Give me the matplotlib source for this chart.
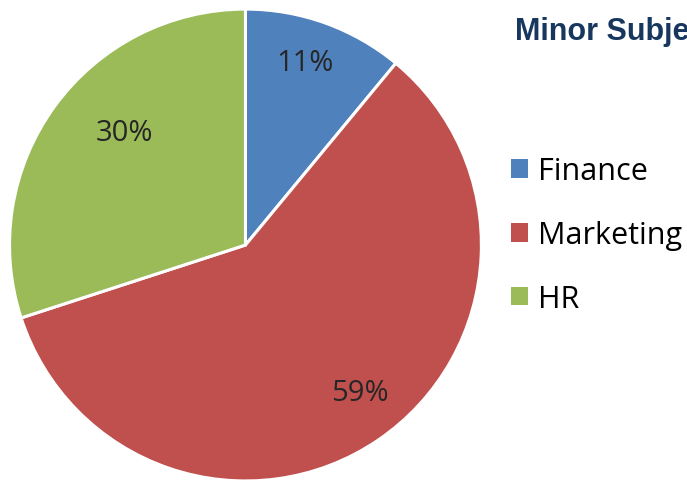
import matplotlib.pyplot as plt
from matplotlib.patches import Patch

subjects = ['Finance', 'Marketing', 'HR']
shares = [11, 59, 30]
colors = ['#4F81BD', '#C0504D', '#9BBB59']
title = 'Minor Subjects'

fig = plt.figure(figsize=(6.87, 4.81), dpi=100)
ax = fig.add_axes([0.0138, -0.002, 0.687, 0.981])

wedges, texts, autotexts = ax.pie(
    shares, colors=colors, startangle=90, counterclock=False,
    autopct=lambda p: f'{p:.0f}%', pctdistance=0.8, radius=1.0,
    wedgeprops=dict(edgecolor='white', linewidth=2.2),
    textprops=dict(fontsize=21, color='#262626', family='Open Sans'))
ax.set_xlim(-1, 1)
ax.set_ylim(-1, 1)
ax.set_aspect('equal')

# label placement nudged to match the original layout
label_xy = [(0.252, 0.775), (0.485, -0.627), (-0.511, 0.475)]
for t, xy in zip(autotexts, label_xy):
    t.set_position(xy)

fig.text(515 / 687, 1 - 40 / 481, title, fontsize=22, fontweight='bold',
         color='#17375E', family='Liberation Sans', va='baseline', ha='left')

handles = [Patch(facecolor=c, edgecolor='none') for c in colors]
fig.legend(handles, subjects, loc='center left',
           bbox_to_anchor=(499 / 687, 1 - 236 / 481), frameon=False,
           prop=dict(family='Open Sans', size=22),
           handlelength=0.56, handleheight=0.56, handletextpad=0.33,
           labelspacing=1.1, borderaxespad=0)

fig.savefig('out.png', dpi=100)
